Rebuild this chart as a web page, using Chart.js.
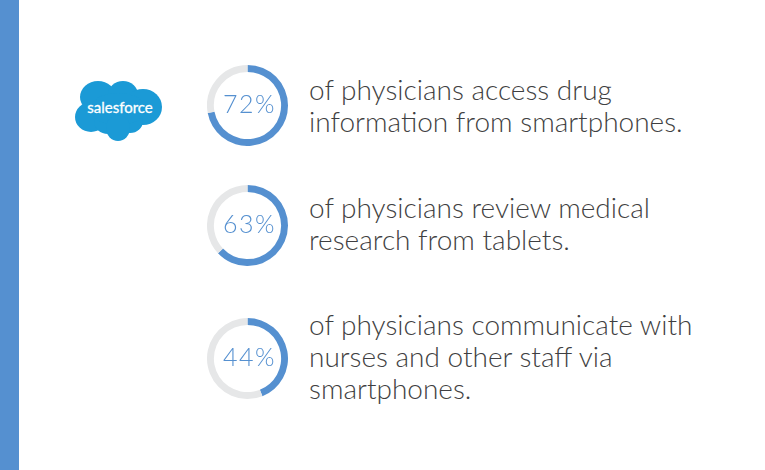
<!DOCTYPE html>
<html>
<head>
<meta charset="utf-8">
<script src="https://cdn.jsdelivr.net/npm/chart.js@4"></script>
<style>
  html, body { margin: 0; padding: 0; background: #fff; }
  #page { position: relative; width: 765px; height: 470px; overflow: hidden; }
  #bar { position: absolute; left: 0; top: 0; width: 19px; height: 470px; background: #5590d0; }
  #logo { position: absolute; left: 70px; top: 75px; }
  .ring { position: absolute; left: 207px; width: 81px; height: 81px; }
  .copy {
    position: absolute; left: 309px; margin: 0;
    font: 300 28px/32px Lato, sans-serif; color: #3f3f42; white-space: nowrap;
  }
</style>
</head>
<body>
<div id="page">
  <div id="bar"></div>
  <svg id="logo" width="98" height="72" viewBox="0 0 98 72">
    <g fill="#1b9ad6">
      <ellipse cx="28" cy="22" rx="18" ry="16"/>
      <ellipse cx="53" cy="20" rx="15" ry="14"/>
      <ellipse cx="73" cy="32" rx="19" ry="18"/>
      <ellipse cx="21" cy="42" rx="16" ry="15"/>
      <ellipse cx="38" cy="46" rx="14" ry="13"/>
      <ellipse cx="60" cy="46" rx="13" ry="12"/>
      <ellipse cx="48" cy="34" rx="28" ry="16"/>
      <ellipse cx="48" cy="53" rx="12" ry="13"/>
    </g>
    <text x="50" y="38" text-anchor="middle" font-family="Lato, sans-serif" font-weight="400" font-size="15" fill="#fff" stroke="#fff" stroke-width="0.3">salesforce</text>
  </svg>
  <div class="ring" style="top:65px"><canvas id="ring0" width="81" height="81"></canvas></div>
  <div class="ring" style="top:185px"><canvas id="ring1" width="81" height="81"></canvas></div>
  <div class="ring" style="top:318px"><canvas id="ring2" width="81" height="81"></canvas></div>
  <p class="copy" id="copy0" style="top:73px"></p>
  <p class="copy" id="copy1" style="top:191px"></p>
  <p class="copy" id="copy2" style="top:308px"></p>
</div>
<script>
const percents = [72, 63, 44];
const captions = [
  ["of physicians access drug", "information from smartphones."],
  ["of physicians review medical", "research from tablets."],
  ["of physicians communicate with", "nurses and other staff via", "smartphones."],
];
const blue = "#5590d0";
const grey = "#e6e7e8";

// center label, drawn on the chart's own canvas
const centerLabel = {
  id: "centerLabel",
  afterDraw(chart) {
    const { ctx, chartArea } = chart;
    ctx.save();
    ctx.font = "300 25px Lato, sans-serif";
    ctx.letterSpacing = "1.5px";
    ctx.fillStyle = blue;
    ctx.textAlign = "center";
    ctx.textBaseline = "middle";
    ctx.fillText(
      chart.data.datasets[0].data[0] + "%",
      (chartArea.left + chartArea.right) / 2 + 2,
      (chartArea.top + chartArea.bottom) / 2 - 1
    );
    ctx.restore();
  },
};

percents.forEach((pct, i) => {
  new Chart(document.getElementById("ring" + i), {
    type: "doughnut",
    data: {
      labels: ["Yes", "Other"],
      datasets: [
        {
          data: [pct, 100 - pct],
          backgroundColor: [blue, grey],
          borderWidth: 0,
        },
      ],
    },
    options: {
      responsive: false,
      animation: false,
      cutout: "83%",
      plugins: { legend: { display: false }, tooltip: { enabled: false } },
    },
    plugins: [centerLabel],
  });
  document.getElementById("copy" + i).innerHTML = captions[i].join("<br>");
});
</script>
</body>
</html>
